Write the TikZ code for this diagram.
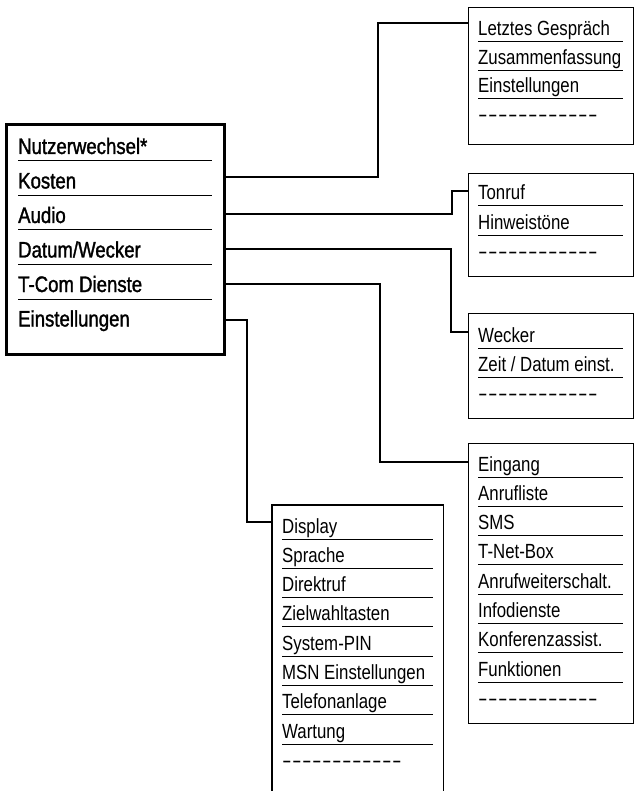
\documentclass[tikz,border=0pt]{standalone}
\usepackage{fontspec}
\usepackage{graphicx}
\setmainfont{Liberation Sans}
\newfontfamily\mainfnt{Liberation Sans}[FakeStretch=0.83,FakeBold=1.4]
\newfontfamily\subfnt{Liberation Sans}[FakeStretch=0.82]
\usetikzlibrary{calc}
\newcommand\hy{\makebox[10pt][l]{\scalebox{1.7}[1]{-}}}
\newcommand\dashrow{\hy\hy\hy\hy\hy\hy\hy\hy\hy\hy\hy\hy}
\begin{document}
\begin{tikzpicture}[x=1pt,y=-1pt,
  mainitem/.style={anchor=base west, inner sep=0pt, font=\mainfnt\fontsize{22.4}{26}\selectfont},
  subitem/.style={anchor=base west, inner sep=0pt, font=\subfnt\fontsize{20.5}{24}\selectfont},
  menubox/.style={draw, line width=1.4pt, inner sep=0pt, anchor=north west},
  mainframe/.style={draw, line width=2.6pt, inner sep=0pt, anchor=north west},
  uline/.style={line width=1pt},
  conn/.style={line width=1.3pt}]
\useasboundingbox (0,0) rectangle (634,791);

% main menu
\node[mainframe, minimum width=218pt, minimum height=230pt] (main) at (5,123) {};
\node[mainitem] (nutzer) at (18,154) {Nutzerwechsel*};
\node[mainitem] (kosten) at (18,188.5) {Kosten};
\node[mainitem] (audio) at (18,223) {Audio};
\node[mainitem] (datum) at (18,257.5) {Datum/Wecker};
\node[mainitem] (tcom) at (18,292) {T-Com Dienste};
\node[mainitem] (einst) at (18,326.5) {Einstellungen};
\foreach \n in {nutzer,kosten,audio,datum,tcom}
  \draw[uline] ($(\n.base west)+(0,7)$) -- ++(194,0);

% submenu boxes
\node[menubox, minimum width=165pt, minimum height=137pt] (box1) at (468,7) {};
\node[menubox, minimum width=165pt, minimum height=103pt] (box2) at (468,173) {};
\node[menubox, minimum width=165pt, minimum height=105pt] (box3) at (468,313) {};
\node[menubox, minimum width=165pt, minimum height=280pt] (box4) at (468,443) {};
\node[inner sep=0pt, anchor=north west, minimum width=171pt, minimum height=292pt] (box5) at (272,505) {};
\draw[line width=1.4pt] (box5.south west) -- (box5.north west) -- (box5.north east) -- (box5.south east);

% box 1
\foreach \t [count=\i from 0] in {Letztes Gespräch, Zusammenfassung, Einstellungen} {
  \node[subitem] (b1-\i) at (478,{42+28.5*\i-6}) {\t};
  \draw[uline] ($(b1-\i.base west)+(0,6)$) -- ++(145,0);
}
\node[subitem] (b1-d) at (478,122) {\dashrow};

% box 2
\foreach \t [count=\i from 0] in {Tonruf, Hinweistöne} {
  \node[subitem] (b2-\i) at (478,{206+29.5*\i-6}) {\t};
  \draw[uline] ($(b2-\i.base west)+(0,6)$) -- ++(145,0);
}
\node[subitem] (b2-d) at (478,258.5) {\dashrow};

% box 3
\foreach \t [count=\i from 0] in {Wecker, Zeit / Datum einst.} {
  \node[subitem] (b3-\i) at (478,{348+29*\i-6}) {\t};
  \draw[uline] ($(b3-\i.base west)+(0,6)$) -- ++(145,0);
}
\node[subitem] (b3-d) at (478,400) {\dashrow};

% box 4
\foreach \t [count=\i from 0] in {Eingang, Anrufliste, SMS, T-Net-Box, Anrufweiterschalt., Infodienste, Konferenzassist., Funktionen} {
  \node[subitem] (b4-\i) at (478,{477+29.29*\i-6}) {\t};
  \draw[uline] ($(b4-\i.base west)+(0,6)$) -- ++(145,0);
}
\node[subitem] (b4-d) at (478,705) {\dashrow};

% box 5
\foreach \t [count=\i from 0] in {Display, Sprache, Direktruf, Zielwahltasten, System-PIN, MSN Einstellungen, Telefonanlage, Wartung} {
  \node[subitem] (b5-\i) at (282,{539+29.29*\i-6}) {\t};
  \draw[uline] ($(b5-\i.base west)+(0,6)$) -- ++(151,0);
}
\node[subitem] (b5-d) at (282,767) {\dashrow};

% connectors
\draw[conn] ($(kosten.base -| main.east)+(0,-11.5)$) -| ($(box1.north west)+(-90,16)$) -- ($(box1.north west)+(0,16)$);
\draw[conn] ($(audio.base -| main.east)+(0,-9)$) -| ($(box2.north west)+(-16,18)$) -- ($(box2.north west)+(0,18)$);
\draw[conn] ($(datum.base -| main.east)+(0,-8.5)$) -| ($(box3.north west)+(-17,19)$) -- ($(box3.north west)+(0,19)$);
\draw[conn] ($(tcom.base -| main.east)+(0,-8)$) -| ($(box4.north west)+(-88,19)$) -- ($(box4.north west)+(0,19)$);
\draw[conn] ($(einst.base -| main.east)+(0,-6.5)$) -| ($(box5.north west)+(-25,17)$) -- ($(box5.north west)+(0,17)$);
\end{tikzpicture}
\end{document}
